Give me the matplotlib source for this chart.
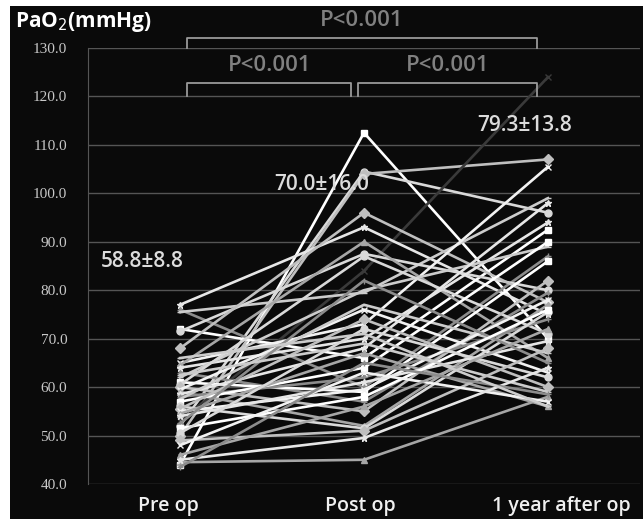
import numpy as np
import matplotlib
matplotlib.use("Agg")
import matplotlib.pyplot as plt
import matplotlib.transforms as mtransforms
from matplotlib.patches import Rectangle

# time points
labels = ["Pre op", "Post op", "1 year after op"]

# PaO2 per patient (approximate)
pre = [44, 52, 50, 53, 44.5, 77, 76, 75.5, 72, 71.5,
       68, 65, 64.5, 64, 63, 62, 61, 60.5, 60, 59.5,
       59, 58.5, 58, 57.5, 57, 56, 55.5, 55, 54.5, 54,
       52.5, 62.5, 51.5, 50.5, 49, 48, 46, 45, 43.5, 66]
post = [112.5, 104.5, 104, 84, 45, 93, 60, 79.5, 66, 87.5,
        96, 73, 90, 70, 57, 80, 59, 87, 55, 76,
        52, 68, 62, 77, 64, 51.5, 74, 59.5, 67, 61,
        82, 69, 58, 72, 51, 63, 56, 49.5, 65, 71]
year1 = [70, 96, 107, 124, 58, 75, 87, 99, 92.5, 80,
         77.5, 105.5, 66, 94, 79.5, 89, 86, 71, 82, 63,
         77, 98, 74, 67, 90, 75.5, 60, 78, 56, 69.5,
         65, 59, 76, 62, 68, 57, 72, 64, 58.5, 56]

mean_txt = ["58.8\u00b18.8", "70.0\u00b116.0", "79.3\u00b113.8"]
mean_y = [85.9, 101.8, 114.1]
p_txt = "P<0.001"

shades = ['#ffffff', '#d9d9d9', '#bfbfbf', '#f2f2f2', '#a6a6a6',
          '#e6e6e6', '#8c8c8c', '#cccccc']
markers = ['s', 'o', 'D', 'x', '^', '*', '+', '_']

fig = plt.figure(figsize=(6.43, 5.19), dpi=100, facecolor='white')
fig.patches.append(Rectangle((10/643, 0), 1, 1 - 6/519, transform=fig.transFigure,
                             facecolor='#0a0a0a', edgecolor='none', zorder=-10))
ax = fig.add_axes([88/643, 35/519, 552/643, 436/519])
ax.set_facecolor('#0a0a0a')

xs = np.arange(3)
for i in range(len(pre)):
    c = shades[i % len(shades)]
    if i == 3:
        c = '#3a3a3a'
    ax.plot(xs, [pre[i], post[i], year1[i]], color=c, lw=1.9,
            marker=markers[i % len(markers)], ms=5, mec=c, mfc=c, zorder=3)

ax.set_xlim(-0.5, 2.5)
ax.set_ylim(40, 130)
ax.set_yticks(np.arange(40, 131, 10))
ax.set_yticklabels(["%.1f" % v for v in np.arange(40, 131, 10)],
                   family='Liberation Serif', fontsize=11, color='#c8c8c8')
ax.set_xticks(xs)
ax.set_xticklabels(labels, family='Open Sans', fontweight='semibold',
                   fontsize=14, color='#f0f0f0')
ax.tick_params(axis='y', length=0, pad=15)
ax.tick_params(axis='x', length=0, pad=9)
# Excel put the category labels a little off centre
for lab, dx in zip(ax.get_xticklabels(), [-12, -4, 13]):
    lab.set_transform(lab.get_transform() +
                      mtransforms.ScaledTranslation(dx/100, 0, fig.dpi_scale_trans))
ax.grid(axis='y', color='#555555', lw=1)
ax.set_axisbelow(True)
for s in ['top', 'right', 'bottom']:
    ax.spines[s].set_visible(False)
ax.spines['left'].set_color('#555555')

# means
for k in range(3):
    ax.text([-0.207, 0.77, 1.875][k], mean_y[k], mean_txt[k], family='Open Sans',
            fontweight='semibold', fontsize=15, color='#dcdcdc',
            ha='center', va='center', zorder=5)

# brackets
def bracket(x0, x1, ytop, ybot):
    ax.plot([x0, x0, x1, x1], [ybot, ytop, ytop, ybot], color='#9a9a9a',
            lw=1.3, clip_on=False, zorder=4)

bracket(0.04, 0.93, 122.8, 120)
bracket(0.97, 1.94, 122.8, 120)
bracket(0.04, 1.94, 132.1, 130)
for xc, yc in [(0.49, 126.4), (1.455, 126.4), (0.99, 135.7)]:
    ax.text(xc, yc, p_txt, family='Open Sans', fontweight='semibold', fontsize=16,
            color='#808080', ha='center', va='center', clip_on=False)

fig.text(15/643, 1 - 22/519, "PaO$_2$(mmHg)", family='Open Sans', fontweight='bold',
         fontsize=15, color='white', ha='left', va='center')

fig.savefig("out.png", dpi=100, facecolor=fig.get_facecolor())
